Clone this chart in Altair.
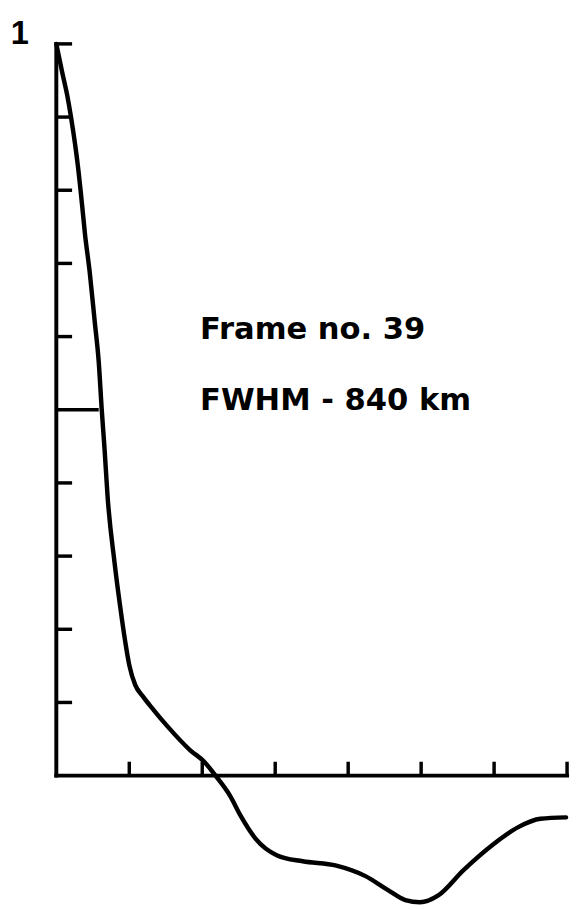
import altair as alt
import pandas as pd

# Curve (x in tick units, y relative intensity)
xs = [0.0, 0.081, 0.149, 0.203, 0.257, 0.297, 0.351, 0.392, 0.459, 0.527,
      0.581, 0.622, 0.662, 0.703, 0.797, 0.878, 0.946, 1.0, 1.081, 1.189,
      1.332, 1.527, 1.832, 2.027, 2.182,
      2.378, 2.527, 2.730, 3.027, 3.378, 3.838, 4.230, 4.541, 4.784, 4.986,
      5.230, 5.581, 5.986, 6.338, 6.635, 6.986]
ys = [1.0, 0.961, 0.930, 0.899, 0.863, 0.832, 0.782, 0.741, 0.687, 0.620,
      0.566, 0.501, 0.445, 0.381, 0.292, 0.229, 0.182, 0.151, 0.124, 0.108,
      0.090, 0.067, 0.035, 0.019, 0.0,
      -0.027, -0.055, -0.086, -0.109, -0.117, -0.123, -0.137, -0.156, -0.170, -0.173,
      -0.164, -0.129, -0.094, -0.070, -0.059, -0.057]

y_ticks_short = [0.1, 0.2, 0.3, 0.4, 0.6, 0.7, 0.8, 0.9, 1.0]
y_tick_long = [0.5]
x_ticks = [1, 2, 3, 4, 5, 6, 7]
labels = ["Frame no. 39", "FWHM - 840 km"]

xscale = alt.Scale(domain=[0, 7], nice=False, zero=False)
yscale = alt.Scale(domain=[-0.175, 1.0], nice=False, zero=False)

curve_df = pd.DataFrame({"x": xs, "y": ys})

curve = alt.Chart(curve_df).mark_line(
    color="black", strokeWidth=4.5, interpolate="monotone", strokeCap="round"
).encode(
    x=alt.X("x:Q", scale=xscale, axis=None),
    y=alt.Y("y:Q", scale=yscale, axis=None),
)

y_axis = alt.Chart(pd.DataFrame({"a": [0]})).mark_rule(
    color="black", strokeWidth=4, strokeCap="square"
).encode(
    x=alt.X(datum=0, scale=xscale, axis=None),
    y=alt.Y(datum=0, scale=yscale, axis=None),
    y2=alt.Y2(datum=1.0),
)

x_axis = alt.Chart(pd.DataFrame({"a": [0]})).mark_rule(
    color="black", strokeWidth=4, strokeCap="square"
).encode(
    y=alt.Y(datum=0, scale=yscale, axis=None),
    x=alt.X(datum=0, scale=xscale, axis=None),
    x2=alt.X2(datum=7),
)

yt_short = alt.Chart(pd.DataFrame({"v": y_ticks_short})).mark_rule(
    color="black", strokeWidth=3.5
).encode(
    y=alt.Y("v:Q", scale=yscale, axis=None),
    x=alt.value(0),
    x2=alt.value(16),
)

yt_long = alt.Chart(pd.DataFrame({"v": y_tick_long})).mark_rule(
    color="black", strokeWidth=3.5
).encode(
    y=alt.Y("v:Q", scale=yscale, axis=None),
    x=alt.value(0),
    x2=alt.value(43),
)

xt = alt.Chart(pd.DataFrame({"v": x_ticks})).mark_rule(
    color="black", strokeWidth=3.5
).encode(
    x=alt.X("v:Q", scale=xscale, axis=None),
    y=alt.Y(datum=0, scale=yscale, axis=None),
    y2=alt.Y2(datum=0.019),
)

text_df = pd.DataFrame({"t": labels, "tx": [1.97, 1.97], "ty": [0.597, 0.499]})
texts = alt.Chart(text_df).mark_text(
    align="left", baseline="alphabetic", font="DejaVu Sans", fontSize=31,
    fontWeight="bold", color="black"
).encode(
    x=alt.X("tx:Q", scale=xscale, axis=None),
    y=alt.Y("ty:Q", scale=yscale, axis=None),
    text="t:N",
)

one = alt.Chart(pd.DataFrame({"t": ["1"]})).mark_text(
    align="center", baseline="alphabetic", font="Liberation Sans", fontSize=33,
    fontWeight="bold", color="black"
).encode(
    x=alt.X(datum=-0.5, scale=xscale, axis=None),
    y=alt.Y(datum=1.0, scale=yscale, axis=None),
    text="t:N",
)

chart = alt.layer(curve, y_axis, x_axis, yt_short, yt_long, xt, texts, one).properties(
    width=518,
    height=872,
    autosize=alt.AutoSizeParams(type="none"),
    padding={"left": 49, "top": 30, "right": 5, "bottom": 0},
    background="white",
).configure_view(stroke=None)

chart.save("out.html", embed_options={"renderer": "svg", "actions": False})
